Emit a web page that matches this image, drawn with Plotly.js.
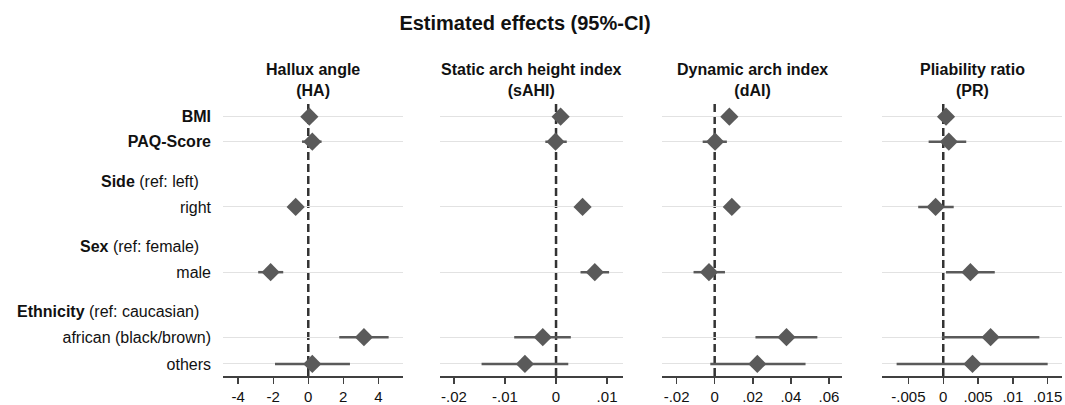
<!DOCTYPE html>
<html>
<head>
<meta charset="utf-8">
<script src="https://cdn.plot.ly/plotly-3.0.1.min.js"></script>
<style>html,body{margin:0;padding:0;background:#fff;}#chart{width:1065px;height:405px;}</style>
</head>
<body>
<div id="chart"></div>
<script>
// Row labels and positions
const rowLabels = ["<b>BMI</b>", "<b>PAQ-Score</b>", "right", "male", "african (black/brown)", "others"];
const rowPos = [1, 1.99, 4.58, 7.17, 9.75, 10.81];
const headerLabels = ["<b>Side</b> (ref: left)", "<b>Sex</b> (ref: female)", "<b>Ethnicity</b> (ref: caucasian)"];
const headerPos = [3.59, 6.16, 8.74];

const panelTitles = ["<b>Hallux angle</b><br><b>(HA)</b>", "<b>Static arch height index</b><br><b>(sAHI)</b>",
  "<b>Dynamic arch index</b><br><b>(dAI)</b>", "<b>Pliability ratio</b><br><b>(PR)</b>"];

// Estimates and 95% CI
const haEst = [0.06, 0.23, -0.72, -2.15, 3.18, 0.23];
const haLo  = [-0.08, -0.36, -0.88, -2.86, 1.77, -1.90];
const haHi  = [0.20, 0.76, -0.56, -1.43, 4.59, 2.38];

const sahiEst = [0.0009, -0.0001, 0.0052, 0.0076, -0.0026, -0.0061];
const sahiLo  = [0.0004, -0.0021, 0.0047, 0.0048, -0.0082, -0.0146];
const sahiHi  = [0.0014, 0.0021, 0.0057, 0.0104, 0.0029, 0.0024];

const daiEst = [0.0077, 0.0002, 0.0090, -0.0030, 0.0377, 0.0224];
const daiLo  = [0.0060, -0.0063, 0.0073, -0.0111, 0.0214, -0.0023];
const daiHi  = [0.0094, 0.0064, 0.0107, 0.0054, 0.0539, 0.0477];

const prEst = [0.0004, 0.0008, -0.0011, 0.0039, 0.0068, 0.0042];
const prLo  = [0.0001, -0.0021, -0.0036, 0.0004, -0.0002, -0.0067];
const prHi  = [0.0007, 0.0033, 0.0015, 0.0074, 0.0138, 0.0150];

const tickVals = [[-4, -2, 0, 2, 4], [-0.02, -0.01, 0, 0.01], [-0.02, 0, 0.02, 0.04, 0.06], [-0.005, 0, 0.005, 0.01, 0.015]];
const tickText = [["-4", "-2", "0", "2", "4"], ["-.02", "-.01", "0", ".01"], ["-.02", "0", ".02", ".04", ".06"], ["-.005", "0", ".005", ".01", ".015"]];
const xRanges = [[-4.87, 5.41], [-0.02275, 0.01307], [-0.02766, 0.067], [-0.0088, 0.0171]];

const W = 1065;
const domainsPx = [[223, 403], [440, 622.7], [662, 842.3], [882, 1062.3]];

const panels = [[haEst, haLo, haHi], [sahiEst, sahiLo, sahiHi], [daiEst, daiLo, daiHi], [prEst, prLo, prHi]];
const markColor = "#5a5a5a";
const font = "Liberation Sans, Arial, sans-serif";
const fs = 16;

const traces = [];
const layout = {
  width: 1065, height: 405,
  margin: {l: 0, r: 0, t: 103, b: 29},
  paper_bgcolor: "#fff", plot_bgcolor: "#fff",
  showlegend: false,
  font: {family: font, size: fs, color: "#111"},
  title: {text: "<b>Estimated effects (95%-CI)</b>", x: 525 / W, xanchor: "center", y: 1 - 23 / 405, yanchor: "middle",
          font: {family: font, size: 20, color: "#111"}},
  yaxis: {
    range: [11.29, 0.456], tickvals: rowPos, ticktext: rowLabels, showgrid: true, gridcolor: "#e2e2e2", gridwidth: 1,
    zeroline: false, showline: false, ticks: "", ticklabelstandoff: 11, tickfont: {family: font, size: fs, color: "#111"},
    anchor: "x", fixedrange: true
  },
  shapes: [], annotations: []
};

panels.forEach((p, i) => {
  const [est, lo, hi] = p;
  const xa = i === 0 ? "x" : "x" + (i + 1);
  traces.push({
    type: "scatter", mode: "markers", x: est, y: rowPos, xaxis: xa, yaxis: "y",
    marker: {symbol: "diamond", size: 14, color: markColor},
    error_x: {type: "data", symmetric: false, array: est.map((e, k) => hi[k] - e), arrayminus: est.map((e, k) => e - lo[k]),
              color: markColor, thickness: 2.5, width: 0},
    hoverinfo: "skip"
  });
  const key = i === 0 ? "xaxis" : "xaxis" + (i + 1);
  layout[key] = {
    domain: [domainsPx[i][0] / W, domainsPx[i][1] / W], range: xRanges[i], anchor: "y",
    tickvals: tickVals[i], ticktext: tickText[i], showgrid: false, zeroline: false,
    showline: true, linecolor: "#404040", linewidth: 2, ticks: "outside", ticklen: 6, tickwidth: 1.5, tickcolor: "#404040",
    tickfont: {family: font, size: 15, color: "#111"}, fixedrange: true
  };
  layout.shapes.push({type: "line", xref: xa, yref: "paper", x0: 0, x1: 0, y0: 0, y1: 1,
    line: {color: "#333", width: 2.5, dash: "8px,4px"}, layer: "below"});
  layout.annotations.push({text: panelTitles[i], xref: "paper", yref: "paper",
    x: (domainsPx[i][0] + domainsPx[i][1]) / 2 / W, xanchor: "center", y: (376 - 101) / 273, yanchor: "bottom",
    showarrow: false, font: {family: font, size: fs, color: "#111"}, align: "center"});
});

headerPos.forEach((hp, k) => {
  layout.annotations.push({text: headerLabels[k], xref: "paper", yref: "y", x: 201 / W, y: hp, xanchor: "right", yanchor: "middle",
    showarrow: false, font: {family: font, size: fs, color: "#111"}});
});

Plotly.newPlot("chart", traces, layout, {displayModeBar: false, staticPlot: true});
</script>
</body>
</html>
